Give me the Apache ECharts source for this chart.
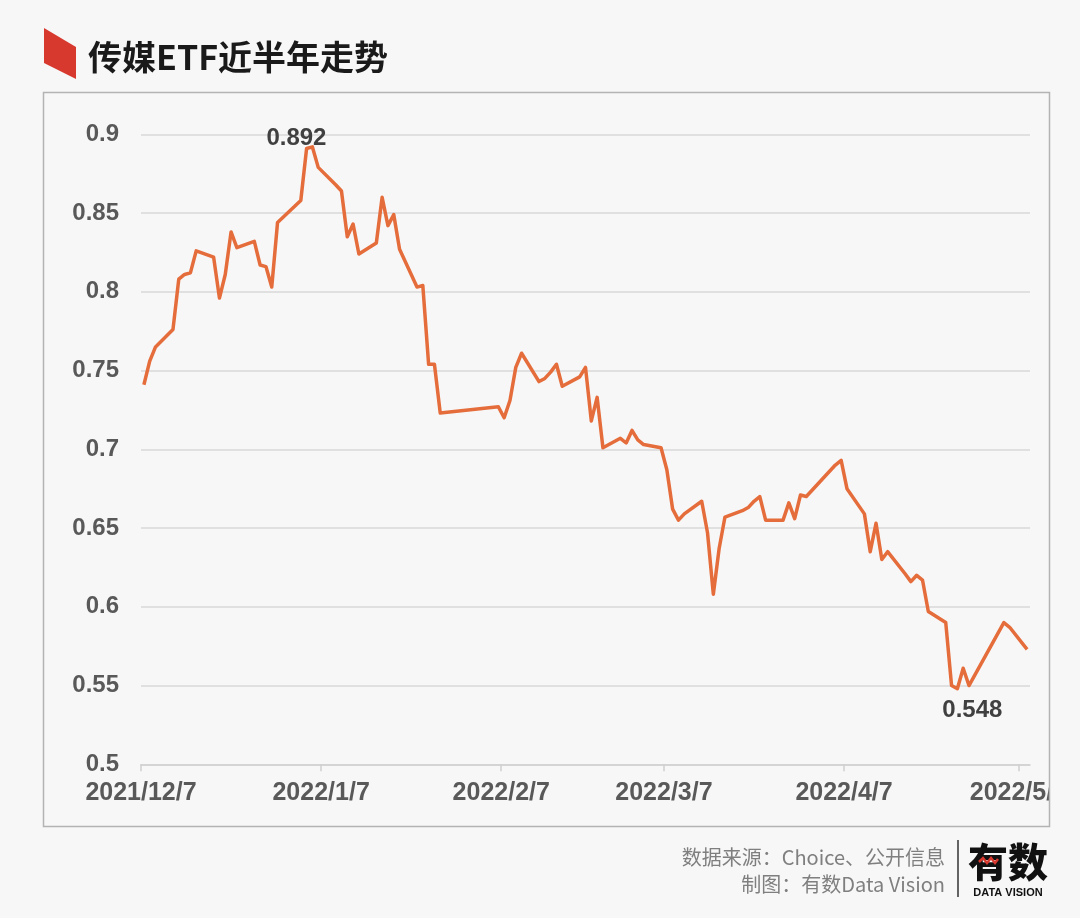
<!DOCTYPE html>
<html>
<head>
<meta charset="utf-8">
<script src="https://cdn.jsdelivr.net/npm/echarts@6/dist/echarts.min.js"></script>
<style>
html,body{margin:0;padding:0;background:#f7f7f7;}
#chart{width:1080px;height:918px;}
</style>
</head>
<body>
<div id="chart"></div>
<script>
// ---- data ----
const titleText = '传媒ETF近半年走势';
const sourceLine1 = '数据来源：Choice、公开信息';
const sourceLine2 = '制图：有数Data Vision';

const dates = [
'2021-12-08','2021-12-09','2021-12-10','2021-12-13','2021-12-14','2021-12-15','2021-12-16','2021-12-17',
'2021-12-20','2021-12-21','2021-12-22','2021-12-23','2021-12-24','2021-12-27','2021-12-28','2021-12-29',
'2021-12-30','2021-12-31',
'2022-01-04','2022-01-05','2022-01-06','2022-01-07','2022-01-10','2022-01-11','2022-01-12','2022-01-13',
'2022-01-14','2022-01-17','2022-01-18','2022-01-19','2022-01-20','2022-01-21','2022-01-24','2022-01-25',
'2022-01-26','2022-01-27','2022-01-28',
'2022-02-07','2022-02-08','2022-02-09','2022-02-10','2022-02-11','2022-02-14','2022-02-15','2022-02-16',
'2022-02-17','2022-02-18','2022-02-21','2022-02-22','2022-02-23','2022-02-24','2022-02-25','2022-02-28',
'2022-03-01','2022-03-02','2022-03-03','2022-03-04','2022-03-07','2022-03-08','2022-03-09','2022-03-10',
'2022-03-11','2022-03-14','2022-03-15','2022-03-16','2022-03-17','2022-03-18','2022-03-21','2022-03-22',
'2022-03-23','2022-03-24','2022-03-25','2022-03-28','2022-03-29','2022-03-30','2022-03-31',
'2022-04-01','2022-04-06','2022-04-07','2022-04-08','2022-04-11','2022-04-12','2022-04-13','2022-04-14',
'2022-04-15','2022-04-18','2022-04-19','2022-04-20','2022-04-21','2022-04-22','2022-04-25','2022-04-26',
'2022-04-27','2022-04-28','2022-04-29',
'2022-05-05','2022-05-06','2022-05-09'
];
const values = [
0.741,0.756,0.765,0.776,0.808,0.811,0.812,0.826,
0.822,0.796,0.811,0.838,0.828,0.832,0.817,0.816,
0.803,0.844,
0.858,0.891,0.892,0.879,0.868,0.864,0.835,0.843,
0.824,0.831,0.860,0.842,0.849,0.827,0.803,0.804,
0.754,0.754,0.723,
0.727,0.720,0.731,0.752,0.761,0.743,0.745,0.749,
0.754,0.740,0.746,0.752,0.718,0.733,0.701,0.707,
0.704,0.712,0.706,0.703,0.701,0.687,0.662,0.655,
0.659,0.667,0.647,0.608,0.637,0.657,0.661,0.663,
0.667,0.670,0.655,0.655,0.666,0.656,0.671,
0.670,0.690,0.693,0.675,0.659,0.635,0.653,0.630,
0.635,0.621,0.616,0.620,0.617,0.597,0.590,0.550,
0.548,0.561,0.550,
0.590,0.587,0.573
];
const tickDates = ['2021-12-07','2022-01-07','2022-02-07','2022-03-07','2022-04-07','2022-05-07'];
const axisStart = '2021-12-07';
const axisEnd = '2022-05-09';
const yMin = 0.5, yMax = 0.9, yStep = 0.05;

// ---- helpers ----
function ts(s, hour) {
  const p = s.split('-').map(Number);
  return new Date(p[0], p[1] - 1, p[2], hour || 0).getTime();
}
const seriesData = dates.map((d, i) => [ts(d), values[i]]);
const tickValues = tickDates.map(d => ts(d, 12));

const bg = '#f7f7f7';
const chart = echarts.init(document.getElementById('chart'), null, {renderer: 'canvas'});
const option = {
  backgroundColor: bg,
  animation: false,
  grid: {left: 141, right: 50, top: 134.3, bottom: 153.7},
  xAxis: {
    type: 'value',
    min: ts(axisStart, 12),
    max: ts(axisEnd, 12),
    axisLine: {show: true, onZero: false, lineStyle: {color: '#d0d0d0', width: 1.5}},
    axisTick: {show: true, customValues: tickValues, length: 7, lineStyle: {color: '#d0d0d0', width: 1.5}},
    splitLine: {show: false},
    axisLabel: {
      customValues: tickValues,
      margin: 16,
      color: '#595959',
      fontSize: 25,
      fontWeight: 'bold',
      fontFamily: 'Liberation Sans, Arial, sans-serif',
      formatter: function (v) {
        const d = new Date(v);
        return d.getFullYear() + '/' + (d.getMonth() + 1) + '/' + d.getDate();
      }
    }
  },
  yAxis: {
    type: 'value',
    min: yMin, max: yMax, interval: yStep,
    axisLine: {show: false},
    axisTick: {show: false},
    splitLine: {show: true, lineStyle: {color: '#d9d9d9', width: 1.5}},
    axisLabel: {
      margin: 22,
      color: '#595959',
      fontSize: 24,
      fontWeight: 'bold',
      fontFamily: 'Liberation Sans, Arial, sans-serif',
      formatter: function (v) { return String(+v.toFixed(2)); }
    }
  },
  series: [{
    type: 'line',
    data: seriesData,
    symbol: 'none',
    lineStyle: {color: '#E56D3B', width: 3.5, join: 'round'},
    itemStyle: {color: '#E56D3B'},
    markPoint: {
      symbol: 'circle',
      symbolSize: 0,
      data: [
        {type: 'max', label: {position: 'top', distance: 2, offset: [-16, 5]}},
        {type: 'min', label: {position: 'bottom', distance: 2, offset: [15, 8]}}
      ],
      label: {
        show: true,
        color: '#404040',
        fontSize: 24,
        fontWeight: 'bold',
        fontFamily: 'Liberation Sans, Arial, sans-serif',
        formatter: function (p) { return (+p.value).toFixed(3); }
      }
    }
  }],
  graphic: [
    {type: 'polygon', z: 100, shape: {points: [[44,28],[76,47],[76,79],[44,63]]}, style: {fill: '#D8392F'}},
    {type: 'text', z: 100, left: 88, top: 40,
      style: {text: titleText, fill: '#1a1a1a', font: 'bold 34px "Noto Sans CJK SC", sans-serif'}},
    {type: 'rect', z: 99, shape: {x: 1050, y: 770, width: 30, height: 60}, style: {fill: bg}},
    {type: 'rect', z: 100, shape: {x: 43.5, y: 92.5, width: 1006, height: 734}, style: {fill: null, stroke: '#b3b3b3', lineWidth: 1.5}},
    {type: 'text', z: 100, style: {x: 945, y: 857, text: sourceLine1, align: 'right', verticalAlign: 'middle', fill: '#7f7f7f', font: '20px "Noto Sans CJK SC", sans-serif'}},
    {type: 'text', z: 100, style: {x: 945, y: 884, text: sourceLine2, align: 'right', verticalAlign: 'middle', fill: '#7f7f7f', font: '20px "Noto Sans CJK SC", sans-serif'}},
    {type: 'line', z: 100, shape: {x1: 958, y1: 840, x2: 958, y2: 897}, style: {stroke: '#333', lineWidth: 1.5}},
    {type: 'text', z: 100, style: {x: 1008, y: 862, text: '有数', align: 'center', verticalAlign: 'middle', fill: '#111', font: '900 40px "Noto Sans CJK SC", sans-serif'}},
    {type: 'polyline', z: 101, shape: {points: [[979,862],[983,858],[987,863],[991,858],[995,863],[998,859]]}, style: {stroke: '#D8392F', lineWidth: 2.5, fill: null}},
    {type: 'text', z: 100, style: {x: 1008, y: 893, text: 'DATA VISION', align: 'center', verticalAlign: 'middle', fill: '#111', font: 'bold 11px "Liberation Sans", Arial, sans-serif'}}
  ]
};
chart.setOption(option);
</script>
</body>
</html>
